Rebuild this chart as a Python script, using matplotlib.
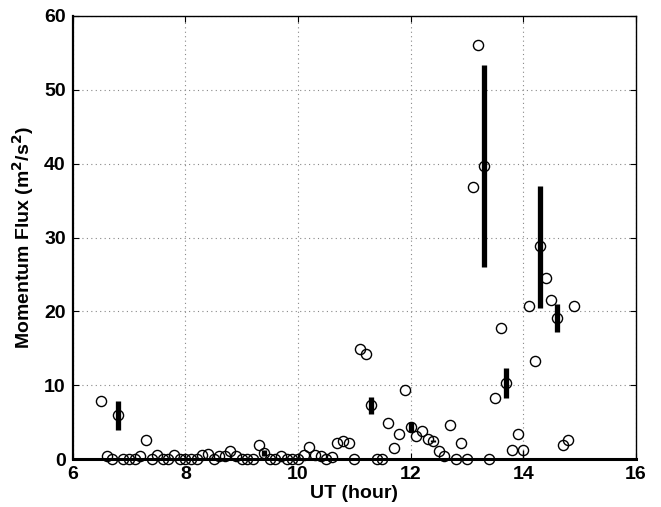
import numpy as np
import matplotlib
matplotlib.use("Agg")
import matplotlib.pyplot as plt

plt.rcParams['font.family'] = ['Liberation Sans', 'DejaVu Sans']

# individual estimates, one every 0.1 hour
ut = [6.5, 6.6, 6.7, 6.8, 6.9, 7.0, 7.1, 7.2, 7.3, 7.4, 7.5, 7.6, 7.7, 7.8, 7.9,
      8.0, 8.1, 8.2, 8.3, 8.4, 8.5, 8.6, 8.7, 8.8, 8.9, 9.0, 9.1, 9.2, 9.3, 9.4,
      9.5, 9.6, 9.7, 9.8, 9.9, 10.0, 10.1, 10.2, 10.3, 10.4, 10.5, 10.6, 10.7, 10.8, 10.9,
      11.0, 11.1, 11.2, 11.3, 11.4, 11.5, 11.6, 11.7, 11.8, 11.9, 12.0, 12.1, 12.2, 12.3, 12.4,
      12.5, 12.6, 12.7, 12.8, 12.9, 13.0, 13.1, 13.2, 13.3, 13.4, 13.5, 13.6, 13.7, 13.8, 13.9,
      14.0, 14.1, 14.2, 14.3, 14.4, 14.5, 14.6, 14.7, 14.8, 14.9]
flux = [7.9, 0.5, 0.0, 6.0, 0.0, 0.0, 0.0, 0.5, 2.6, 0.0, 0.6, 0.0, 0.0, 0.6, 0.0,
        0.0, 0.0, 0.0, 0.6, 0.7, 0.0, 0.5, 0.5, 1.1, 0.5, 0.0, 0.0, 0.0, 2.0, 0.9,
        0.0, 0.0, 0.5, 0.0, 0.0, 0.0, 0.6, 1.7, 0.6, 0.4, 0.0, 0.3, 2.2, 2.5, 2.2,
        0.0, 14.9, 14.3, 7.3, 0.0, 0.0, 4.9, 1.5, 3.4, 9.4, 4.4, 3.1, 3.8, 2.7, 2.5,
        1.1, 0.5, 4.7, 0.0, 2.2, 0.0, 36.9, 56.0, 39.7, 0.0, 8.3, 17.8, 10.3, 1.3, 3.4,
        1.3, 20.7, 13.3, 28.8, 24.5, 21.6, 19.1, 2.0, 2.6, 20.7]

# spread bars
bar_t = [6.8, 9.4, 11.3, 12.0, 12.4, 13.3, 13.7, 14.3, 14.6]
bar_lo = [4.0, 0.5, 6.2, 3.7, 2.4, 26.0, 8.3, 20.5, 17.2]
bar_hi = [7.9, 1.3, 8.4, 5.0, 2.65, 53.4, 12.4, 37.0, 21.0]
thin_t = [14.0]
thin_lo = [0.0]
thin_hi = [1.3]

fig = plt.figure(figsize=(6.61, 5.07), dpi=100)
ax = fig.add_axes([0.110, 0.094, 0.852, 0.875])

ax.vlines(bar_t, bar_lo, bar_hi, colors='k', linewidth=3.8, zorder=2)
ax.vlines(thin_t, thin_lo, thin_hi, colors='k', linewidth=1.0, zorder=2)
ax.plot(ut, flux, 'o', mfc='none', mec='k', ms=7.3, mew=1.0, clip_on=False, zorder=3)

ax.set_xlim(6, 16)
ax.set_ylim(0, 60)
ax.set_xticks([6, 8, 10, 12, 14, 16])
ax.set_yticks([0, 10, 20, 30, 40, 50, 60])
ax.grid(True, linestyle=(0, (1, 3)), color='#888888', linewidth=0.8)
ax.tick_params(direction='in', length=4, width=0.8, top=True, right=True,
               labelsize=14, pad=5)
for lab in ax.get_xticklabels() + ax.get_yticklabels():
    lab.set_fontweight('bold')
for s in ax.spines.values():
    s.set_linewidth(1.0)
ax.spines['bottom'].set_linewidth(2.2)
ax.spines['left'].set_linewidth(1.6)

ax.set_xlabel('UT (hour)', fontsize=14, fontweight='bold', labelpad=1)
ax.set_ylabel('Momentum Flux (m$^\\mathbf{2}$/s$^\\mathbf{2}$)', fontsize=14,
              fontweight='bold', labelpad=6)

fig.savefig('out.png', dpi=100)
